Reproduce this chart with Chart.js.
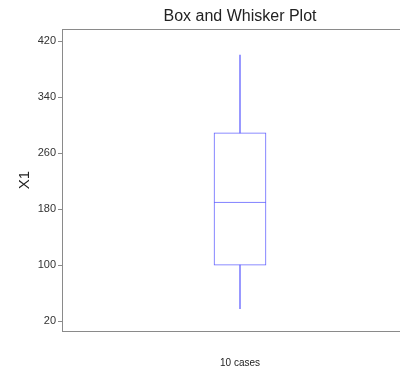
<!DOCTYPE html>
<html>
<head>
<meta charset="utf-8">
<script src="https://cdn.jsdelivr.net/npm/chart.js@4/dist/chart.umd.min.js"></script>
<style>
html,body{margin:0;padding:0;background:#fff;overflow:hidden;}
#wrap{width:480px;height:370px;}
</style>
</head>
<body>
<div id="wrap"><canvas id="c" width="480" height="370"></canvas></div>
<script>
// valores (una sola serie, 10 casos)
var CATS=['10 cases'];
var MINV=[38], Q1=[100], MED=[190], Q3=[289], MAXV=[400];
var TICKS=[20,100,180,260,340,420];
var BLUE='rgb(100,100,255)', GRAY='#8a8a8a';
var FONT='"Liberation Sans", Arial, sans-serif';

function pair(a,b){return a.map(function(v,i){return [v,b[i]];});}
function boxPart(d,skip){return {data:d,grouped:false,barThickness:52,backgroundColor:'#fff',borderColor:BLUE,borderWidth:1,borderSkipped:skip};}
function whisk(d){return {data:d,grouped:false,barThickness:1,backgroundColor:'rgba(100,100,255,0.8)',borderWidth:0};}

new Chart(document.getElementById('c'),{
  type:'bar',
  data:{labels:CATS,datasets:[
    whisk(pair(Q3,MAXV)), whisk(pair(MINV,Q1)),
    boxPart(pair(Q1,MED),false), boxPart(pair(MED,Q3),'start')
  ]},
  options:{
    responsive:false,animation:false,
    plugins:{
      legend:{display:false},tooltip:{enabled:false},
      title:{display:true,text:'Box and Whisker Plot',color:'#222',font:{family:FONT,size:16,weight:'normal'},padding:{top:7,bottom:3}}
    },
    scales:{
      x:{position:'bottom',ticks:{display:false},grid:{display:false,drawTicks:false},
         border:{display:true,color:GRAY,width:1},
         title:{display:true,text:'10 cases',color:'#222',font:{family:FONT,size:10},padding:{top:26,bottom:1}}},
      xTop:{type:'category',labels:CATS,position:'top',ticks:{display:false},grid:{display:false,drawTicks:false},
         border:{display:true,color:GRAY,width:1}},
      y:{min:6,max:437,
         afterBuildTicks:function(s){s.ticks=TICKS.map(function(v){return {value:v};});},
         afterFit:function(s){s.width=62;},
         ticks:{color:'#333',font:{family:FONT,size:11},padding:2},
         grid:{display:true,drawOnChartArea:false,tickLength:4,color:GRAY},
         border:{display:true,color:GRAY,width:1},
         title:{display:true,text:'X1',color:'#222',font:{family:FONT,size:15},padding:{top:16,bottom:0}}},
      yRight:{position:'right',min:6,max:437,ticks:{display:false},grid:{display:false,drawTicks:false},
         border:{display:false},afterFit:function(s){s.width=62;}}
    }
  }
});
</script>
</body>
</html>
